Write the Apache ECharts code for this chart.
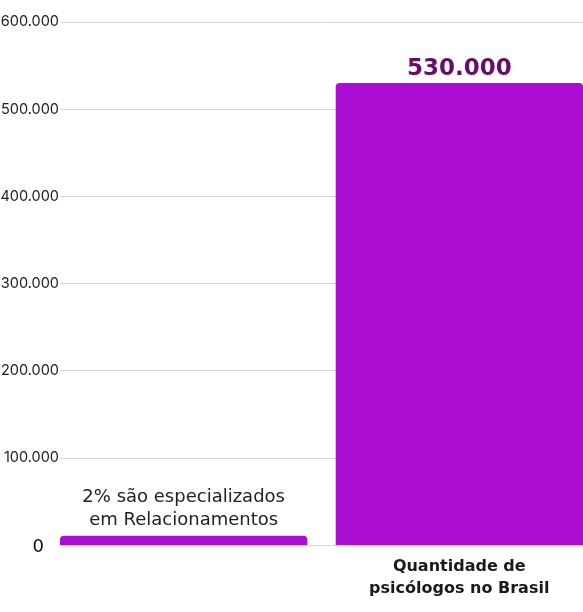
<!DOCTYPE html>
<html>
<head>
<meta charset="utf-8">
<script src="https://cdn.jsdelivr.net/npm/echarts@6/dist/echarts.min.js"></script>
<style>
  html, body { margin: 0; padding: 0; background: #fff; }
  #chart { width: 583px; height: 612px; }
</style>
</head>
<body>
<div id="chart"></div>
<script>
// dados
var categorias = ['', 'Quantidade de\npsicólogos no Brasil'];
var especializados = [10600, '-'];
var psicologos = ['-', 530000];
var rotuloEspecializados = '2% são especializados\nem Relacionamentos';

function fmt(v) {
  return String(v).replace(/\B(?=(\d{3})+(?!\d))/g, '.');
}

var chart = echarts.init(document.getElementById('chart'));
chart.setOption({
  animation: false,
  grid: { left: 60, right: 0, top: 22, bottom: 67, outerBoundsMode: 'none', containLabel: false },
  xAxis: {
    type: 'category',
    data: categorias,
    axisLine: { show: false },
    axisTick: { show: false },
    axisLabel: {
      margin: 11,
      padding: [0, 0, 0, 14],
      color: '#1a1a1a',
      fontFamily: 'DejaVu Sans',
      fontWeight: 'bold',
      fontSize: 16,
      lineHeight: 22
    }
  },
  yAxis: {
    type: 'value',
    min: 0,
    max: 600000,
    interval: 100000,
    axisLine: { show: false },
    axisTick: { show: false },
    splitLine: { lineStyle: { color: '#d6d6d6', width: 1 } },
    axisLabel: {
      margin: 1,
      color: '#222',
      fontFamily: 'Inter',
      fontSize: 14.5,
      formatter: function (v) {
        return v === 0 ? '{zero|0}' : fmt(v);
      },
      rich: {
        zero: { fontSize: 18, fontFamily: 'DejaVu Sans', color: '#111', padding: [4, 15, 0, 0] }
      }
    }
  },
  series: [
    {
      type: 'bar',
      data: especializados,
      barWidth: 248,
      barGap: '-94%',
      itemStyle: { color: '#ab0dd3', borderRadius: [4, 4, 0, 0] },
      label: {
        show: true,
        position: 'top',
        distance: 4,
        formatter: rotuloEspecializados,
        color: '#222',
        fontFamily: 'DejaVu Sans',
        fontSize: 18,
        lineHeight: 23
      }
    },
    {
      type: 'bar',
      data: psicologos,
      barWidth: 248,
      itemStyle: { color: '#ab0dd3', borderRadius: [4, 4, 0, 0] },
      label: {
        show: true,
        position: 'top',
        distance: 2,
        formatter: function (p) { return fmt(p.value); },
        color: '#6a0a6e',
        fontFamily: 'DejaVu Sans',
        fontWeight: 'bold',
        fontSize: 23
      }
    }
  ]
});
</script>
</body>
</html>
